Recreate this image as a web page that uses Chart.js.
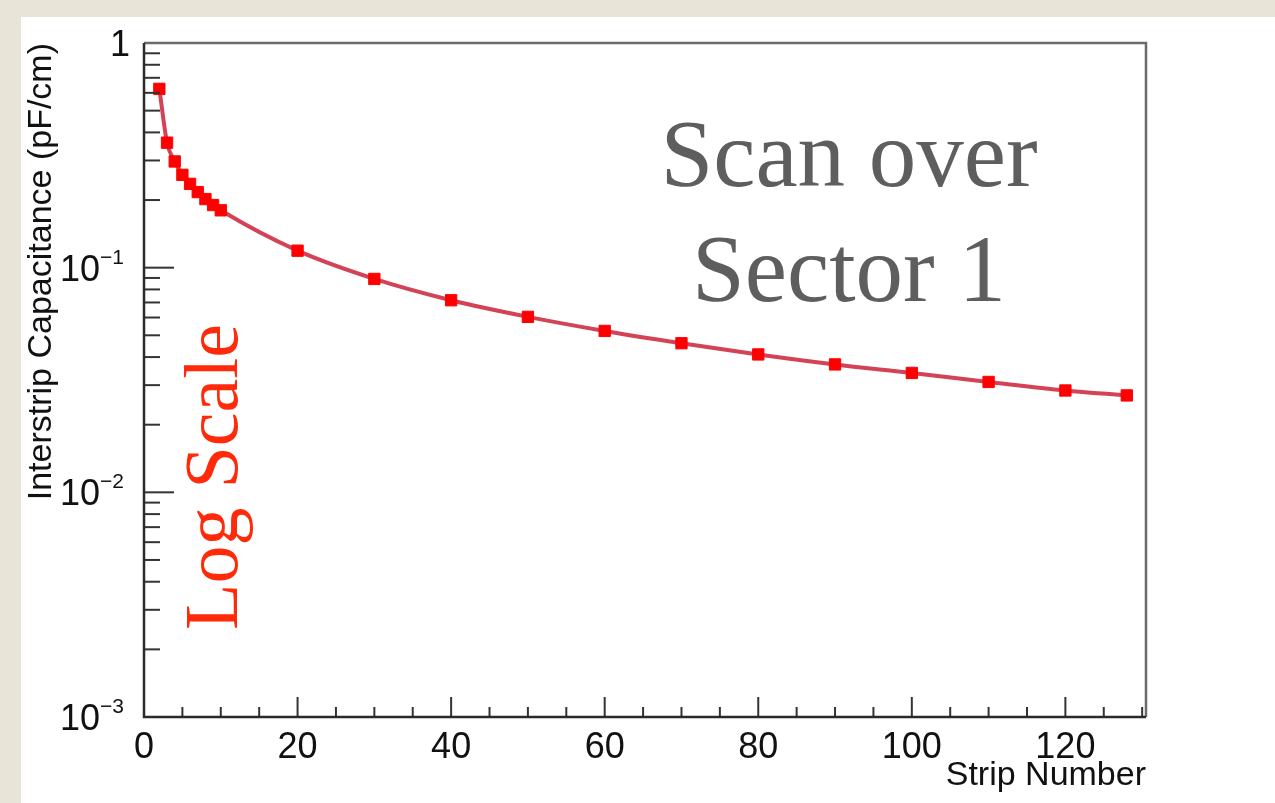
<!DOCTYPE html>
<html>
<head>
<meta charset="utf-8">
<script src="https://cdn.jsdelivr.net/npm/chart.js@4"></script>
<style>
  html, body { margin: 0; padding: 0; }
  body { width: 1275px; height: 803px; background: #e8e4d8; position: relative; overflow: hidden; }
  #panel { position: absolute; left: 21px; top: 17px; width: 1254px; height: 786px; background: #fff; }
  canvas { display: block; }
</style>
</head>
<body>
<div id="panel"><canvas id="chart" width="1254" height="786"></canvas></div>
<script>
// strip scan, sector 1
const strips = [2, 3, 4, 5, 6, 7, 8, 9, 10, 20, 30, 40, 50, 60, 70, 80, 90, 100, 110, 120, 128];
const capacitance = [0.625, 0.36, 0.297, 0.259, 0.236, 0.217, 0.202, 0.19, 0.18, 0.119, 0.0891,
  0.0716, 0.0604, 0.0523, 0.0461, 0.0411, 0.0371, 0.034, 0.031, 0.0284, 0.027];

const xLabelTicks = [0, 20, 40, 60, 80, 100, 120];
const xMinorStep = 5;
const yDecades = [0.001, 0.01, 0.1, 1];
const yDecadeLabels = ["10|−3", "10|−2", "10|−1", "1"];

const sans = "'Liberation Sans', Arial, Helvetica, sans-serif";
const serif = "'Liberation Serif', 'Times New Roman', serif";

// ROOT style frame, inward ticks, log labels and the two text notes
const rootFrame = {
  id: "rootFrame",
  afterDraw(chart) {
    const { ctx, chartArea: a, scales: { x, y } } = chart;
    ctx.save();
    ctx.lineCap = "butt";

    // ticks
    ctx.strokeStyle = "#333";
    ctx.lineWidth = 2;
    x.ticks.forEach(t => {
      const px = x.getPixelForValue(t.value);
      const len = xLabelTicks.includes(t.value) ? 20 : 10;
      ctx.beginPath();
      ctx.moveTo(px, a.bottom);
      ctx.lineTo(px, a.bottom - len);
      ctx.stroke();
    });
    y.ticks.forEach(t => {
      const py = y.getPixelForValue(t.value);
      const major = yDecades.some(d => Math.abs(d - t.value) < d * 1e-6);
      ctx.beginPath();
      ctx.moveTo(a.left, py);
      ctx.lineTo(a.left + (major ? 30 : 16), py);
      ctx.stroke();
    });

    // frame: top and right lighter
    ctx.strokeStyle = "#6a6a6a";
    ctx.lineWidth = 2.5;
    ctx.beginPath();
    ctx.moveTo(a.left, a.top);
    ctx.lineTo(a.right, a.top);
    ctx.lineTo(a.right, a.bottom);
    ctx.stroke();
    ctx.strokeStyle = "#2a2a2a";
    ctx.beginPath();
    ctx.moveTo(a.left, a.top);
    ctx.lineTo(a.left, a.bottom);
    ctx.lineTo(a.right, a.bottom);
    ctx.stroke();

    // y labels with superscript exponents
    ctx.fillStyle = "#111";
    ctx.textBaseline = "alphabetic";
    yDecades.forEach((d, i) => {
      const py = y.getPixelForValue(d);
      const [base, exp] = yDecadeLabels[i].split("|");
      if (exp) {
        ctx.font = "36px " + sans;
        ctx.textAlign = "right";
        ctx.fillText(base, a.left - 44, py + 13);
        ctx.font = "21px " + sans;
        ctx.textAlign = "left";
        ctx.fillText(exp, a.left - 44, py - 4);
      } else {
        ctx.font = "36px " + sans;
        ctx.textAlign = "right";
        ctx.fillText(base, a.left - 14, py + 13);
      }
    });

    // notes
    ctx.fillStyle = "#5e5e5e";
    ctx.font = "95px " + serif;
    ctx.textAlign = "center";
    ctx.fillText("Scan over", 828, 169);
    ctx.fillText("Sector 1", 828, 284);

    ctx.translate(216, 460);
    ctx.rotate(-Math.PI / 2);
    ctx.fillStyle = "#ff2a0a";
    ctx.font = "76px " + serif;
    ctx.fillText("Log Scale", 0, 0);
    ctx.restore();
  }
};

new Chart(document.getElementById("chart"), {
  type: "line",
  data: {
    datasets: [{
      data: strips.map((s, i) => ({ x: s, y: capacitance[i] })),
      borderColor: "rgba(206, 40, 64, 0.88)",
      borderWidth: 4,
      cubicInterpolationMode: "monotone",
      pointStyle: "rect",
      pointRadius: 8,
      pointBackgroundColor: "#ff0000",
      pointBorderColor: "#ff0000",
      pointBorderWidth: 1
    }]
  },
  options: {
    responsive: false,
    animation: false,
    devicePixelRatio: 1,
    layout: { padding: { top: 26, right: 129, left: 0, bottom: 0 } },
    plugins: { legend: { display: false }, tooltip: { enabled: false } },
    scales: {
      x: {
        type: "linear",
        min: 0,
        max: 130.5,
        afterBuildTicks: scale => {
          const t = [];
          for (let v = 0; v <= 130; v += xMinorStep) t.push({ value: v });
          scale.ticks = t;
        },
        afterFit: scale => { scale.height = 86; },
        grid: { display: false, drawTicks: false },
        border: { display: false },
        ticks: {
          autoSkip: false,
          maxRotation: 0,
          padding: 9,
          color: "#111",
          font: { family: sans, size: 36 },
          callback: v => (xLabelTicks.includes(v) ? String(v) : "")
        },
        title: {
          display: true,
          text: "Strip Number",
          align: "end",
          color: "#111",
          font: { family: sans, size: 34 },
          padding: { top: 0, bottom: 7 }
        }
      },
      y: {
        type: "logarithmic",
        min: 0.001,
        max: 1,
        afterBuildTicks: scale => {
          const t = [];
          yDecades.slice(0, -1).forEach(d => {
            for (let m = 1; m <= 9; m++) t.push({ value: d * m });
          });
          t.push({ value: 1 });
          scale.ticks = t;
        },
        afterFit: scale => { scale.width = 123; },
        grid: { display: false, drawTicks: false },
        border: { display: false },
        ticks: { display: false },
        title: {
          display: true,
          text: "Interstrip Capacitance (pF/cm)",
          align: "end",
          color: "#111",
          font: { family: sans, size: 34 },
          padding: { top: 0, bottom: 0 }
        }
      }
    }
  },
  plugins: [rootFrame]
});
</script>
</body>
</html>
